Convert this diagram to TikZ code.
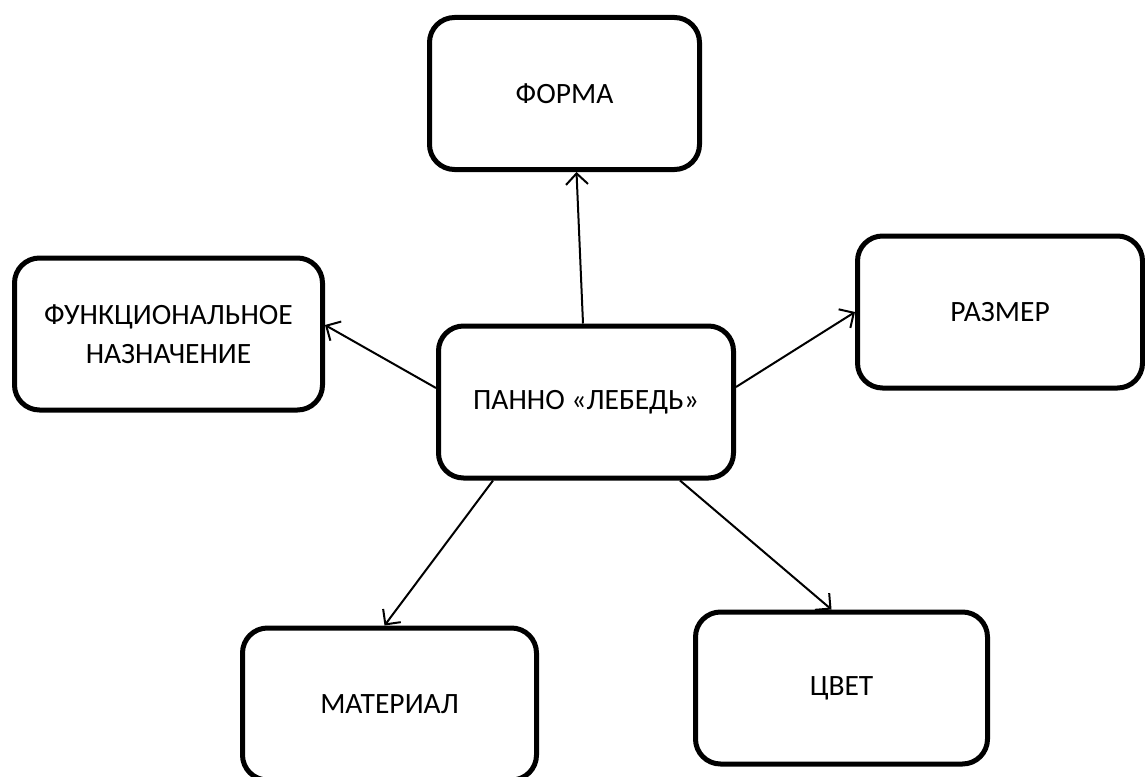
\documentclass[tikz,border=0pt]{standalone}
\usepackage{fontspec}
\setmainfont{Carlito}
\usetikzlibrary{arrows.meta}

\begin{document}
\begin{tikzpicture}[x=1pt,y=-1pt,>={Straight Barb[length=11pt,width=22pt]},
 font=\fontsize{29.5}{39}\selectfont,
 box/.style={draw,line width=5pt,rounded corners=25pt,align=center,minimum height=152pt,inner sep=0pt},
 link/.style={->,line width=2pt}]
\useasboundingbox (0,0) rectangle (1145,776);
\node[box,minimum width=270pt] (forma) at (564.5,93.5) {ФОРМА};
\node[box,minimum width=308pt] (naznach) at (168.5,334) {ФУНКЦИОНАЛЬНОЕ\\НАЗНАЧЕНИЕ};
\node[box,minimum width=295pt] (panno) at (586,402) {ПАННО «ЛЕБЕДЬ»};
\node[box,minimum width=285pt] (razmer) at (1000,312) {РАЗМЕР};
\node[box,minimum width=294pt] (material) at (389.5,704) {МАТЕРИАЛ};
\node[box,minimum width=292pt] (cvet) at (841.5,688) {ЦВЕТ};
\draw[link] ([xshift=-3pt]panno.north) -- ([xshift=12pt]forma.south);
\draw[link] ([yshift=14pt]panno.west) -- ([yshift=9pt]naznach.east);
\draw[link] ([yshift=15pt]panno.east) -- (razmer.west);
\draw[link] ([xshift=-93pt]panno.south) -- ([xshift=-5pt]material.north);
\draw[link] ([xshift=94pt]panno.south) -- ([xshift=-10pt]cvet.north);
\end{tikzpicture}
\end{document}
